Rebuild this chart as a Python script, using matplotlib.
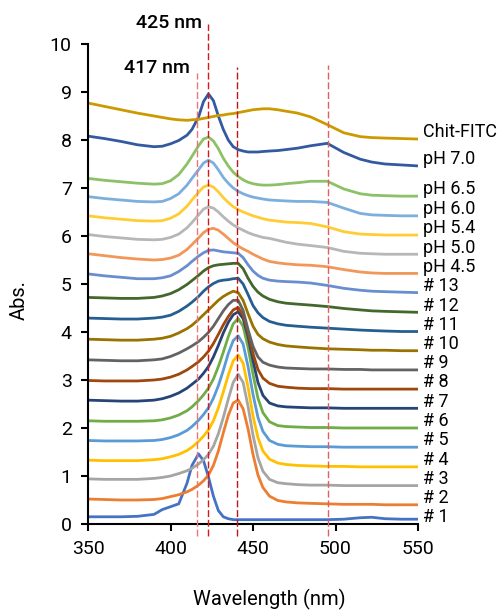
import matplotlib
matplotlib.use("Agg")
import matplotlib.pyplot as plt

plt.rcParams['font.family'] = ['Roboto', 'DejaVu Sans']

# shared wavelength grid (nm)
wavelength = [350, 360, 370, 380, 390, 395, 400, 405, 410, 413, 417, 420, 423, 426, 429, 432, 435, 438,
              441, 444, 447, 450, 453, 456, 460, 465, 470, 477, 485, 495, 505, 515, 522, 530, 540, 550]

labels = ['# 1', '# 2', '# 3', '# 4', '# 5', '# 6', '# 7', '# 8', '# 9', '# 10', '# 11', '# 12', '# 13',
          'pH 4.5', 'pH 5.0', 'pH 5.4', 'pH 6.0', 'pH 6.5', 'pH 7.0', 'Chit-FITC']

abs_n1 = [0.15, 0.15, 0.15, 0.16, 0.20, 0.30, 0.36, 0.42, 0.85, 1.22, 1.46, 1.32, 0.98, 0.58, 0.28, 0.15, 0.11, 0.09,
          0.09, 0.09, 0.09, 0.09, 0.09, 0.09, 0.09, 0.09, 0.09, 0.09, 0.09, 0.09, 0.10, 0.13, 0.14, 0.11, 0.10, 0.10]
abs_n2 = [0.52, 0.51, 0.50, 0.50, 0.51, 0.53, 0.57, 0.61, 0.67, 0.72, 0.81, 0.90, 1.02, 1.22, 1.52, 1.90, 2.26, 2.52,
          2.58, 2.40, 1.98, 1.45, 1.02, 0.76, 0.58, 0.49, 0.46, 0.44, 0.43, 0.42, 0.41, 0.41, 0.41, 0.40, 0.40, 0.40]
abs_n3 = [0.94, 0.93, 0.93, 0.93, 0.95, 0.97, 1.00, 1.05, 1.11, 1.16, 1.25, 1.34, 1.45, 1.62, 1.88, 2.22, 2.60, 2.95,
          3.12, 2.95, 2.45, 1.85, 1.38, 1.10, 0.93, 0.86, 0.84, 0.82, 0.81, 0.81, 0.80, 0.80, 0.80, 0.80, 0.80, 0.80]
abs_n4 = [1.33, 1.32, 1.32, 1.32, 1.34, 1.36, 1.40, 1.45, 1.53, 1.60, 1.72, 1.83, 1.96, 2.15, 2.42, 2.75, 3.10, 3.40,
          3.52, 3.35, 2.85, 2.25, 1.80, 1.52, 1.35, 1.27, 1.24, 1.22, 1.21, 1.20, 1.20, 1.19, 1.19, 1.19, 1.19, 1.19]
abs_n5 = [1.74, 1.73, 1.73, 1.73, 1.74, 1.76, 1.80, 1.86, 1.95, 2.03, 2.16, 2.28, 2.42, 2.62, 2.88, 3.20, 3.55, 3.82,
          3.92, 3.75, 3.28, 2.70, 2.22, 1.93, 1.74, 1.66, 1.63, 1.62, 1.61, 1.61, 1.60, 1.60, 1.60, 1.60, 1.60, 1.60]
abs_n6 = [2.15, 2.14, 2.14, 2.14, 2.15, 2.17, 2.21, 2.27, 2.36, 2.44, 2.57, 2.69, 2.83, 3.02, 3.28, 3.58, 3.90, 4.17,
          4.28, 4.12, 3.68, 3.12, 2.62, 2.32, 2.13, 2.05, 2.03, 2.02, 2.01, 2.01, 2.00, 2.00, 2.00, 2.00, 2.00, 2.00]
abs_n7 = [2.58, 2.57, 2.56, 2.56, 2.58, 2.61, 2.66, 2.73, 2.83, 2.91, 3.02, 3.14, 3.28, 3.48, 3.72, 3.98, 4.20, 4.36,
          4.42, 4.28, 3.90, 3.40, 2.95, 2.68, 2.52, 2.46, 2.44, 2.43, 2.42, 2.42, 2.41, 2.41, 2.41, 2.41, 2.41, 2.41]
abs_n8 = [2.99, 2.98, 2.98, 2.98, 3.00, 3.02, 3.06, 3.12, 3.21, 3.28, 3.38, 3.48, 3.60, 3.76, 3.95, 4.15, 4.32, 4.46,
          4.51, 4.35, 3.98, 3.55, 3.22, 3.04, 2.93, 2.87, 2.85, 2.83, 2.82, 2.82, 2.81, 2.81, 2.81, 2.81, 2.81, 2.81]
abs_n9 = [3.42, 3.41, 3.40, 3.40, 3.42, 3.44, 3.49, 3.56, 3.65, 3.71, 3.80, 3.89, 3.99, 4.12, 4.28, 4.44, 4.57, 4.66,
          4.66, 4.45, 4.05, 3.70, 3.48, 3.37, 3.31, 3.27, 3.25, 3.24, 3.23, 3.23, 3.22, 3.22, 3.21, 3.21, 3.21, 3.21]
abs_n10 = [3.85, 3.84, 3.83, 3.83, 3.85, 3.87, 3.91, 3.98, 4.07, 4.14, 4.26, 4.36, 4.46, 4.56, 4.66, 4.74, 4.80, 4.85,
           4.82, 4.66, 4.38, 4.12, 3.95, 3.86, 3.79, 3.74, 3.71, 3.69, 3.67, 3.65, 3.64, 3.63, 3.62, 3.62, 3.61, 3.61]
abs_n11 = [4.29, 4.28, 4.27, 4.27, 4.29, 4.31, 4.35, 4.43, 4.54, 4.62, 4.74, 4.85, 4.94, 5.01, 5.06, 5.08, 5.09, 5.11,
           5.12, 5.00, 4.78, 4.55, 4.40, 4.30, 4.22, 4.17, 4.14, 4.12, 4.10, 4.08, 4.06, 4.04, 4.03, 4.02, 4.01, 4.01]
abs_n12 = [4.72, 4.71, 4.70, 4.70, 4.72, 4.75, 4.80, 4.88, 4.99, 5.07, 5.18, 5.27, 5.34, 5.38, 5.40, 5.41, 5.42, 5.43,
           5.43, 5.32, 5.12, 4.95, 4.83, 4.75, 4.68, 4.63, 4.60, 4.58, 4.56, 4.53, 4.49, 4.46, 4.44, 4.43, 4.42, 4.41]
abs_n13 = [5.21, 5.17, 5.14, 5.11, 5.11, 5.13, 5.17, 5.26, 5.38, 5.47, 5.58, 5.65, 5.70, 5.71, 5.69, 5.67, 5.66, 5.65,
           5.64, 5.55, 5.40, 5.27, 5.18, 5.12, 5.08, 5.06, 5.05, 5.04, 5.02, 4.97, 4.91, 4.87, 4.85, 4.84, 4.83, 4.82]
abs_ph45 = [5.63, 5.59, 5.55, 5.52, 5.50, 5.51, 5.54, 5.60, 5.72, 5.82, 5.96, 6.07, 6.14, 6.16, 6.12, 6.04, 5.95, 5.86,
            5.79, 5.73, 5.68, 5.62, 5.57, 5.52, 5.47, 5.44, 5.42, 5.40, 5.39, 5.36, 5.30, 5.25, 5.23, 5.22, 5.22, 5.22]
abs_ph50 = [6.03, 5.99, 5.96, 5.93, 5.92, 5.93, 5.97, 6.04, 6.17, 6.28, 6.44, 6.56, 6.61, 6.58, 6.50, 6.40, 6.31, 6.23,
            6.17, 6.12, 6.07, 6.03, 6.00, 5.97, 5.95, 5.91, 5.87, 5.83, 5.80, 5.76, 5.68, 5.64, 5.63, 5.62, 5.62, 5.62]
abs_ph54 = [6.42, 6.38, 6.35, 6.32, 6.31, 6.32, 6.37, 6.46, 6.62, 6.75, 6.91, 7.02, 7.06, 7.02, 6.92, 6.80, 6.70, 6.61,
            6.55, 6.50, 6.46, 6.42, 6.39, 6.36, 6.33, 6.31, 6.29, 6.28, 6.26, 6.19, 6.09, 6.04, 6.03, 6.02, 6.02, 6.02]
abs_ph60 = [6.82, 6.78, 6.75, 6.72, 6.71, 6.72, 6.78, 6.88, 7.06, 7.20, 7.38, 7.52, 7.58, 7.52, 7.38, 7.22, 7.10, 7.00,
            6.93, 6.88, 6.84, 6.81, 6.79, 6.77, 6.75, 6.74, 6.73, 6.72, 6.72, 6.70, 6.58, 6.47, 6.44, 6.43, 6.42, 6.42]
abs_ph65 = [7.20, 7.16, 7.13, 7.10, 7.08, 7.09, 7.15, 7.28, 7.50, 7.66, 7.88, 8.02, 8.06, 7.98, 7.82, 7.62, 7.46, 7.33,
            7.24, 7.17, 7.12, 7.09, 7.07, 7.06, 7.06, 7.07, 7.09, 7.11, 7.14, 7.14, 6.98, 6.88, 6.85, 6.84, 6.83, 6.83]
abs_ph70 = [8.08, 8.03, 7.97, 7.90, 7.86, 7.87, 7.92, 7.99, 8.10, 8.22, 8.48, 8.80, 8.96, 8.82, 8.50, 8.22, 8.00, 7.86,
            7.80, 7.77, 7.75, 7.75, 7.75, 7.76, 7.77, 7.78, 7.80, 7.83, 7.88, 7.93, 7.74, 7.60, 7.54, 7.50, 7.48, 7.46]
abs_chit = [8.77, 8.70, 8.63, 8.56, 8.50, 8.47, 8.44, 8.42, 8.41, 8.42, 8.43, 8.45, 8.47, 8.49, 8.51, 8.52, 8.54, 8.55,
            8.57, 8.59, 8.61, 8.63, 8.64, 8.65, 8.65, 8.63, 8.60, 8.56, 8.48, 8.32, 8.15, 8.07, 8.05, 8.04, 8.03, 8.02]

spectra = [abs_n1, abs_n2, abs_n3, abs_n4, abs_n5, abs_n6, abs_n7, abs_n8, abs_n9, abs_n10, abs_n11, abs_n12,
           abs_n13, abs_ph45, abs_ph50, abs_ph54, abs_ph60, abs_ph65, abs_ph70, abs_chit]

colors = ['#4472C4', '#ED7D31', '#A5A5A5', '#FFC000', '#5B9BD5', '#70AD47', '#264478', '#9E480E', '#636363',
          '#997300', '#255E91', '#43682B', '#698ED0', '#F1975A', '#B7B7B7', '#FFCD33', '#7CAFDD', '#8CC168',
          '#335AA1', '#CC9A00']

# dashed guide lines: wavelength, top (abs units), colour
guide_nm = [416, 423, 440.5, 495.3]
guide_top = [9.4, 10.42, 9.53, 9.56]
guide_colors = ['#E87878', '#D81818', '#B81818', '#E06060']

fig = plt.figure(figsize=(5.02, 6.11), dpi=100)
ax = fig.add_axes([0.1753, 0.1424, 0.6574, 0.7856])

for i, (spec, lab, col) in enumerate(zip(spectra, labels, colors)):
    ax.plot(wavelength, spec, color=col, lw=2.0, solid_capstyle='butt')
    off = 0.05 if i == 0 else 0.14
    ax.text(553, spec[-1] + off, lab, ha='left', va='center', fontsize=13, clip_on=False)

for x, top, col in zip(guide_nm, guide_top, guide_colors):
    ax.plot([x, x], [-0.25, top], color=col, lw=1.0, linestyle=(0, (5, 2)), clip_on=False, zorder=5)

ax.text(guide_nm[1] - 3.8, 10.44, '425 nm', ha='right', va='center', fontsize=14, fontweight='medium')
ax.text(guide_nm[0] - 4.1, 9.49, '417 nm', ha='right', va='center', fontsize=14, fontweight='medium')

ax.set_xlim(350, 550)
ax.set_ylim(0, 10)
ax.set_xticks(range(350, 551, 50))
ax.set_yticks(range(0, 11))
for side in ['top', 'right']:
    ax.spines[side].set_visible(False)
for side in ['left', 'bottom']:
    ax.spines[side].set_linewidth(1.5)
ax.tick_params(axis='both', direction='out', length=4.7, width=1.5, labelsize=14)
ax.tick_params(axis='y', pad=7)
ax.tick_params(axis='x', pad=6.5)

ax.set_xlabel('Wavelength (nm)', fontsize=14.5)
ax.set_ylabel('Abs.', fontsize=14.5)
ax.xaxis.set_label_coords(0.55, -0.158)
ax.xaxis.label.set_va('center')
ax.yaxis.set_label_coords(-0.207, 0.467)
ax.yaxis.label.set_va('center')

plt.savefig('out.png', dpi=100)
